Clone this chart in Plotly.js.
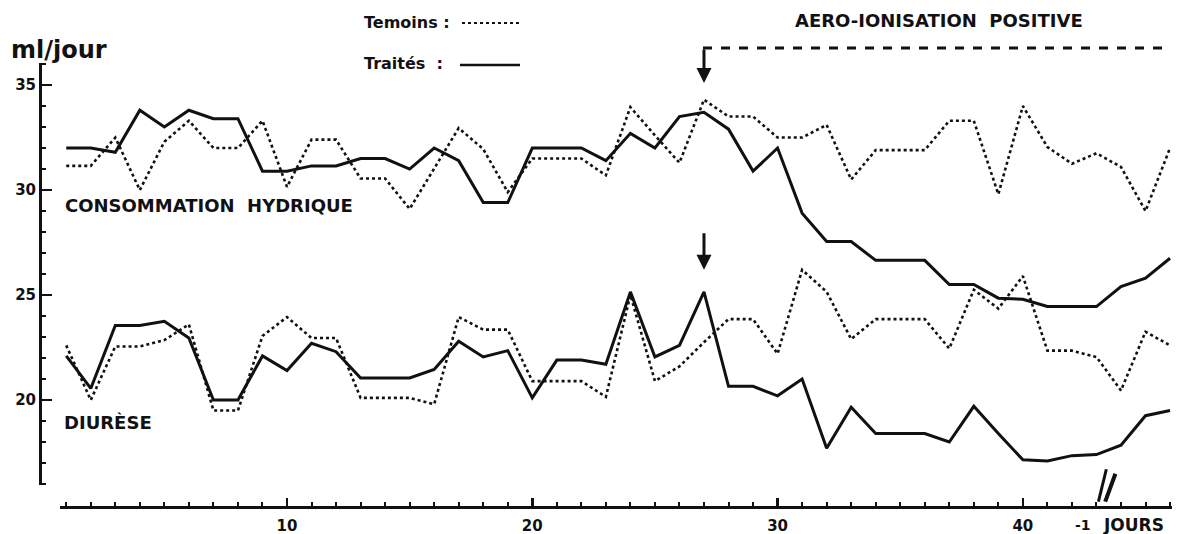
<!DOCTYPE html>
<html>
<head>
<meta charset="utf-8">
<script src="https://cdn.plot.ly/plotly-3.0.1.min.js"></script>
<style>
html,body{margin:0;padding:0;background:#fff;}
#chart{width:1183px;height:534px;}
</style>
</head>
<body>
<div id="chart"></div>
<script>
// Days 1..46
const days = Array.from({length: 46}, (_, i) => i + 1);

// Consommation hydrique (ml/jour)
const consTraites = [32.0, 32.0, 31.8, 33.8, 33.0, 33.8, 33.4, 33.4, 30.9, 30.9,
  31.15, 31.15, 31.5, 31.5, 31.0, 32.0, 31.4, 29.4, 29.4, 32.0,
  32.0, 32.0, 31.4, 32.7, 32.0, 33.5, 33.7, 32.9, 30.9, 32.0,
  28.9, 27.55, 27.55, 26.65, 26.65, 26.65, 25.5, 25.5, 24.85, 24.8,
  24.45, 24.45, 24.45, 25.4, 25.8, 26.75];
const consTemoins = [31.15, 31.15, 32.5, 30.0, 32.3, 33.3, 32.0, 32.0, 33.3, 30.15,
  32.4, 32.4, 30.55, 30.55, 29.1, 31.0, 32.95, 31.95, 29.9, 31.5,
  31.5, 31.5, 30.7, 33.95, 32.6, 31.3, 34.3, 33.5, 33.5, 32.5,
  32.5, 33.1, 30.5, 31.9, 31.9, 31.9, 33.3, 33.3, 29.8, 34.0,
  32.05, 31.25, 31.75, 31.1, 29.0, 32.0];

// Diurèse (ml/jour)
const diurTraites = [22.1, 20.55, 23.55, 23.55, 23.75, 22.95, 20.0, 20.0, 22.1, 21.4,
  22.7, 22.3, 21.05, 21.05, 21.05, 21.45, 22.8, 22.05, 22.35, 20.1,
  21.9, 21.9, 21.7, 25.15, 22.05, 22.6, 25.15, 20.65, 20.65, 20.2,
  21.0, 17.7, 19.65, 18.4, 18.4, 18.4, 18.0, 19.7, 18.4, 17.15,
  17.1, 17.35, 17.4, 17.85, 19.25, 19.5];
const diurTemoins = [22.6, 20.0, 22.55, 22.55, 22.85, 23.6, 19.5, 19.5, 23.05, 23.95,
  22.95, 22.95, 20.1, 20.1, 20.1, 19.8, 23.95, 23.35, 23.35, 20.9,
  20.9, 20.9, 20.15, 25.0, 20.9, 21.6, 22.75, 23.85, 23.85, 22.2,
  26.2, 25.15, 22.9, 23.85, 23.85, 23.85, 22.45, 25.25, 24.35, 25.9,
  22.35, 22.35, 22.05, 20.45, 23.25, 22.6];

const xTickVals = [10, 20, 30, 40];
const xTickText = ['10', '20', '30', '40'];
const startDay = 27; // début de l'aéro-ionisation

const FONT = 'DejaVu Sans, Arial, sans-serif';
const solid = {color: '#111', width: 3, dash: 'solid'};
const dotted = {color: '#111', width: 2.6, dash: 'dot'};

const traces = [
  {x: days, y: consTemoins, mode: 'lines', line: dotted, name: 'Temoins', hoverinfo: 'x+y'},
  {x: days, y: consTraites, mode: 'lines', line: solid, name: 'Traités', hoverinfo: 'x+y'},
  {x: days, y: diurTemoins, mode: 'lines', line: dotted, name: 'Temoins', hoverinfo: 'x+y'},
  {x: days, y: diurTraites, mode: 'lines', line: solid, name: 'Traités', hoverinfo: 'x+y'}
];

const idx = startDay - 1;

const layout = {
  width: 1183, height: 534,
  margin: {l: 40, r: 11, t: 63, b: 27},
  paper_bgcolor: '#fff', plot_bgcolor: '#fff',
  showlegend: false,
  font: {family: FONT, color: '#111'},
  xaxis: {
    domain: [0.0177, 1],
    range: [0.747, 46.08],
    anchor: 'free', position: 0,
    showline: true, linecolor: '#111', linewidth: 2.5,
    showgrid: false, zeroline: false,
    tickmode: 'array', tickvals: xTickVals, ticktext: xTickText,
    ticks: 'inside', ticklen: 8, tickwidth: 2.5, tickcolor: '#111',
    minor: {dtick: 1, tick0: 0, ticks: 'inside', ticklen: 4, tickwidth: 2, tickcolor: '#111', showgrid: false},
    tickfont: {family: FONT, size: 15, color: '#111', weight: 'bold'},
    ticklabelstandoff: 4
  },
  yaxis: {
    domain: [0.0495, 1],
    range: [15.95, 36.05],
    anchor: 'free', position: 0,
    showline: true, linecolor: '#111', linewidth: 2.5,
    showgrid: false, zeroline: false,
    tick0: 0, dtick: 5,
    ticks: 'inside', ticklen: 10, tickwidth: 2.5, tickcolor: '#111',
    minor: {dtick: 1, tick0: 0, ticks: 'inside', ticklen: 4, tickwidth: 2, tickcolor: '#111', showgrid: false},
    tickfont: {family: FONT, size: 15, color: '#111', weight: 'bold'},
    ticklabelstandoff: 0
  },
  shapes: [
    // dashed line for the treatment period
    {type: 'line', xref: 'paper', yref: 'paper', x0: 0.5857, x1: 0.9982, y0: 1.0338, y1: 1.0338,
     line: {color: '#111', width: 3, dash: 'dash'}},
    // legend samples
    {type: 'line', xref: 'paper', yref: 'paper', x0: 0.3728, x1: 0.4258, y0: 1.0901, y1: 1.0901,
     line: {color: '#111', width: 2, dash: 'dot'}},
    {type: 'line', xref: 'paper', yref: 'paper', x0: 0.371, x1: 0.424, y0: 0.9955, y1: 0.9955,
     line: {color: '#111', width: 2.5}},
    // axis break marks
    {type: 'line', xref: 'paper', yref: 'paper', x0: 0.935, x1: 0.942, y0: 0.012, y1: 0.085,
     line: {color: '#111', width: 3}},
    {type: 'line', xref: 'paper', yref: 'paper', x0: 0.941, x1: 0.950, y0: 0.012, y1: 0.075,
     line: {color: '#111', width: 4}}
  ],
  annotations: [
    {text: '<b>ml/jour</b>', xref: 'paper', yref: 'paper', x: -0.027, y: 1.03,
     xanchor: 'left', yanchor: 'middle', showarrow: false, font: {family: FONT, size: 24, color: '#111'}},
    {text: '<b>Temoins :</b>', xref: 'paper', yref: 'paper', x: 0.2845, y: 1.0923,
     xanchor: 'left', yanchor: 'middle', showarrow: false, font: {family: FONT, size: 16, color: '#111'}},
    {text: '<b>Traités  :</b>', xref: 'paper', yref: 'paper', x: 0.2845, y: 0.999,
     xanchor: 'left', yanchor: 'middle', showarrow: false, font: {family: FONT, size: 16, color: '#111'}},
    {text: '<b>AERO-IONISATION  POSITIVE</b>', xref: 'paper', yref: 'paper', x: 0.7942, y: 1.0968,
     xanchor: 'center', yanchor: 'middle', showarrow: false, font: {family: FONT, size: 18, color: '#111'}},
    {text: '<b>CONSOMMATION  HYDRIQUE</b>', xref: 'x', yref: 'y', x: 0.87, y: 29.24,
     xanchor: 'left', yanchor: 'middle', showarrow: false, font: {family: FONT, size: 18, color: '#111'}},
    {text: '<b>DIURÈSE</b>', xref: 'x', yref: 'y', x: 0.83, y: 18.95,
     xanchor: 'left', yanchor: 'middle', showarrow: false, font: {family: FONT, size: 18, color: '#111'}},
    {text: '<b>-1</b>', xref: 'x', yref: 'paper', x: 42.45, y: -0.041,
     xanchor: 'center', yanchor: 'middle', showarrow: false, font: {family: FONT, size: 14, color: '#111'}},
    {text: '<b>JOURS</b>', xref: 'x', yref: 'paper', x: 44.5, y: -0.041,
     xanchor: 'center', yanchor: 'middle', showarrow: false, font: {family: FONT, size: 17, color: '#111'}},
    // arrows marking the start of treatment
    {text: '', xref: 'x', yref: 'y', x: startDay, y: 35.1, ax: 0, ay: -35,
     showarrow: true, arrowhead: 2, arrowsize: 1, arrowwidth: 3, arrowcolor: '#111'},
    {text: '', xref: 'x', yref: 'y', x: startDay, y: diurTraites[idx] + 1.05, ax: 0, ay: -38,
     showarrow: true, arrowhead: 2, arrowsize: 1, arrowwidth: 3, arrowcolor: '#111'}
  ]
};

Plotly.newPlot('chart', traces, layout, {staticPlot: true, displayModeBar: false});
</script>
</body>
</html>
